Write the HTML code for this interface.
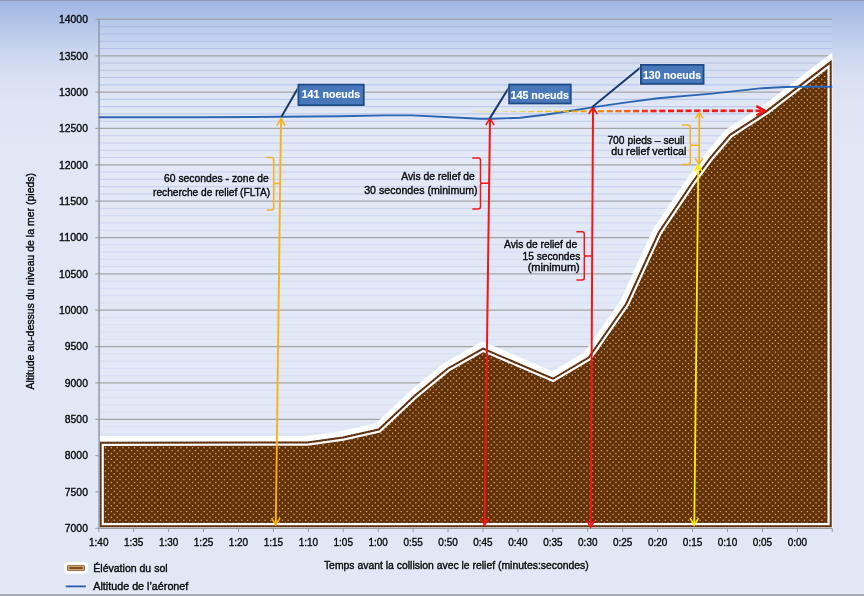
<!DOCTYPE html>
<html lang="fr"><head><meta charset="utf-8"><title>Profil du relief et altitude de l'aéronef</title>
<style>html,body{margin:0;padding:0;background:#e1e7f5;}body{width:864px;height:596px;overflow:hidden;}svg{display:block;font-family:"Liberation Sans",sans-serif;}.t{font-size:11.4px;fill:#0b0b0b;stroke:#0b0b0b;stroke-width:0.4px;}.tk{font-size:10.8px;fill:#0b0b0b;stroke:#0b0b0b;stroke-width:0.38px;}.cb{font-size:11.6px;font-weight:bold;fill:#fff;stroke:#fff;stroke-width:0.15px;}</style></head><body>
<svg width="864" height="596" viewBox="0 0 864 596">
<defs>
<linearGradient id="bg" x1="0" y1="0" x2="0" y2="1"><stop offset="0" stop-color="#9eb6e2"/><stop offset="0.04" stop-color="#b3c5e9"/><stop offset="0.085" stop-color="#cad5ef"/><stop offset="0.125" stop-color="#d7dff2"/><stop offset="0.17" stop-color="#dde4f4"/><stop offset="0.25" stop-color="#e1e7f5"/><stop offset="1" stop-color="#e1e7f5"/></linearGradient>
<linearGradient id="pl" x1="0" y1="0" x2="0" y2="1"><stop offset="0" stop-color="#fff" stop-opacity="0.09"/><stop offset="0.5" stop-color="#fff" stop-opacity="0.05"/><stop offset="1" stop-color="#fff" stop-opacity="0.03"/></linearGradient>
<pattern id="dots" width="29" height="29" patternUnits="userSpaceOnUse"><rect width="29" height="29" fill="#643208"/><g fill="#d2a776"><rect x="0.5" y="0.5" width="1.3" height="1.3"/><rect x="3.4" y="3.4" width="1.3" height="1.3"/><rect x="0.5" y="6.3" width="1.3" height="1.3"/><rect x="3.4" y="9.2" width="1.3" height="1.3"/><rect x="0.5" y="12.1" width="1.3" height="1.3"/><rect x="3.4" y="15.0" width="1.3" height="1.3"/><rect x="0.5" y="17.9" width="1.3" height="1.3"/><rect x="3.4" y="20.8" width="1.3" height="1.3"/><rect x="0.5" y="23.7" width="1.3" height="1.3"/><rect x="3.4" y="26.6" width="1.3" height="1.3"/><rect x="6.3" y="0.5" width="1.3" height="1.3"/><rect x="9.2" y="3.4" width="1.3" height="1.3"/><rect x="6.3" y="6.3" width="1.3" height="1.3"/><rect x="9.2" y="9.2" width="1.3" height="1.3"/><rect x="6.3" y="12.1" width="1.3" height="1.3"/><rect x="9.2" y="15.0" width="1.3" height="1.3"/><rect x="6.3" y="17.9" width="1.3" height="1.3"/><rect x="9.2" y="20.8" width="1.3" height="1.3"/><rect x="6.3" y="23.7" width="1.3" height="1.3"/><rect x="9.2" y="26.6" width="1.3" height="1.3"/><rect x="12.1" y="0.5" width="1.3" height="1.3"/><rect x="15.0" y="3.4" width="1.3" height="1.3"/><rect x="12.1" y="6.3" width="1.3" height="1.3"/><rect x="15.0" y="9.2" width="1.3" height="1.3"/><rect x="12.1" y="12.1" width="1.3" height="1.3"/><rect x="15.0" y="15.0" width="1.3" height="1.3"/><rect x="12.1" y="17.9" width="1.3" height="1.3"/><rect x="15.0" y="20.8" width="1.3" height="1.3"/><rect x="12.1" y="23.7" width="1.3" height="1.3"/><rect x="15.0" y="26.6" width="1.3" height="1.3"/><rect x="17.9" y="0.5" width="1.3" height="1.3"/><rect x="20.8" y="3.4" width="1.3" height="1.3"/><rect x="17.9" y="6.3" width="1.3" height="1.3"/><rect x="20.8" y="9.2" width="1.3" height="1.3"/><rect x="17.9" y="12.1" width="1.3" height="1.3"/><rect x="20.8" y="15.0" width="1.3" height="1.3"/><rect x="17.9" y="17.9" width="1.3" height="1.3"/><rect x="20.8" y="20.8" width="1.3" height="1.3"/><rect x="17.9" y="23.7" width="1.3" height="1.3"/><rect x="20.8" y="26.6" width="1.3" height="1.3"/><rect x="23.7" y="0.5" width="1.3" height="1.3"/><rect x="26.6" y="3.4" width="1.3" height="1.3"/><rect x="23.7" y="6.3" width="1.3" height="1.3"/><rect x="26.6" y="9.2" width="1.3" height="1.3"/><rect x="23.7" y="12.1" width="1.3" height="1.3"/><rect x="26.6" y="15.0" width="1.3" height="1.3"/><rect x="23.7" y="17.9" width="1.3" height="1.3"/><rect x="26.6" y="20.8" width="1.3" height="1.3"/><rect x="23.7" y="23.7" width="1.3" height="1.3"/><rect x="26.6" y="26.6" width="1.3" height="1.3"/></g></pattern>
<linearGradient id="dash" gradientUnits="userSpaceOnUse" x1="470" y1="0" x2="665" y2="0"><stop offset="0" stop-color="#f5d020" stop-opacity="0"/><stop offset="0.12" stop-color="#f5c81e" stop-opacity="0.55"/><stop offset="0.35" stop-color="#f3b000"/><stop offset="0.6" stop-color="#f37a10"/><stop offset="0.85" stop-color="#ee2a18"/><stop offset="1" stop-color="#ec1c1c"/></linearGradient>
<clipPath id="plot"><rect x="98.75" y="0" width="733.55" height="528.90"/></clipPath>
</defs>
<rect width="864" height="596" fill="url(#bg)"/>
<rect x="0" y="0" width="864" height="1.2" fill="#8c9ab6"/>
<rect x="0" y="1.2" width="864" height="1" fill="#a5b7ea" fill-opacity="0.8"/>
<rect x="0" y="593" width="864" height="1" fill="#eef1f8"/>
<rect x="0" y="594" width="864" height="2" fill="#a2a7b3"/>
<rect x="98.75" y="19.4" width="733.55" height="508.90" fill="url(#pl)"/>
<g stroke-width="1.1" fill="none">
<path d="M98.75 26.67H832.3" stroke="#a8bce7"/>
<path d="M98.75 33.94H832.3" stroke="#aabde7"/>
<path d="M98.75 41.21H832.3" stroke="#acbfe8"/>
<path d="M98.75 48.48H832.3" stroke="#aec0e9"/>
<path d="M98.75 63.02H832.3" stroke="#b2c4ea"/>
<path d="M98.75 70.29H832.3" stroke="#b4c5eb"/>
<path d="M98.75 77.56H832.3" stroke="#b5c6eb"/>
<path d="M98.75 84.83H832.3" stroke="#b7c7ec"/>
<path d="M98.75 99.37H832.3" stroke="#bbcaed"/>
<path d="M98.75 106.64H832.3" stroke="#bdcbed"/>
<path d="M98.75 113.91H832.3" stroke="#beccee"/>
<path d="M98.75 121.18H832.3" stroke="#c0cdee"/>
<path d="M98.75 135.72H832.3" stroke="#c2cfee"/>
<path d="M98.75 142.99H832.3" stroke="#c3cfef"/>
<path d="M98.75 150.26H832.3" stroke="#c4d0ef"/>
<path d="M98.75 157.53H832.3" stroke="#c5d1ef"/>
<path d="M98.75 172.07H832.3" stroke="#c7d2ef"/>
<path d="M98.75 179.34H832.3" stroke="#c8d3ef"/>
<path d="M98.75 186.61H832.3" stroke="#c9d4f0"/>
<path d="M98.75 193.88H832.3" stroke="#cad4f0"/>
<path d="M98.75 208.42H832.3" stroke="#ccd6f0"/>
<path d="M98.75 215.69H832.3" stroke="#cdd7f1"/>
<path d="M98.75 222.96H832.3" stroke="#ced7f1"/>
<path d="M98.75 230.23H832.3" stroke="#cfd8f1"/>
<path d="M98.75 244.77H832.3" stroke="#d1d9f2"/>
<path d="M98.75 252.04H832.3" stroke="#d2daf2"/>
<path d="M98.75 259.31H832.3" stroke="#d3dbf2"/>
<path d="M98.75 266.58H832.3" stroke="#d4dcf3"/>
<path d="M98.75 281.12H832.3" stroke="#d6ddf3"/>
<path d="M98.75 288.39H832.3" stroke="#d6def4"/>
<path d="M98.75 295.66H832.3" stroke="#d7dff4"/>
<path d="M98.75 302.93H832.3" stroke="#d8dff4"/>
<path d="M98.75 317.47H832.3" stroke="#d8dff4"/>
<path d="M98.75 324.74H832.3" stroke="#d8dff4"/>
<path d="M98.75 332.01H832.3" stroke="#d8dff4"/>
<path d="M98.75 339.28H832.3" stroke="#d9dff4"/>
<path d="M98.75 353.82H832.3" stroke="#d9dff4"/>
<path d="M98.75 361.09H832.3" stroke="#d9e0f4"/>
<path d="M98.75 368.36H832.3" stroke="#d9e0f4"/>
<path d="M98.75 375.63H832.3" stroke="#d9e0f4"/>
<path d="M98.75 390.17H832.3" stroke="#d9e0f4"/>
<path d="M98.75 397.44H832.3" stroke="#d9e0f4"/>
<path d="M98.75 404.71H832.3" stroke="#d9e0f4"/>
<path d="M98.75 411.98H832.3" stroke="#d9e0f4"/>
<path d="M98.75 426.52H832.3" stroke="#dae0f5"/>
<path d="M98.75 433.79H832.3" stroke="#dae0f5"/>
<path d="M98.75 441.06H832.3" stroke="#dae0f5"/>
<path d="M98.75 448.33H832.3" stroke="#dae0f5"/>
<path d="M98.75 462.87H832.3" stroke="#dae0f5"/>
<path d="M98.75 470.14H832.3" stroke="#dae0f5"/>
<path d="M98.75 477.41H832.3" stroke="#dae1f5"/>
<path d="M98.75 484.68H832.3" stroke="#dae1f5"/>
<path d="M98.75 499.22H832.3" stroke="#dbe1f5"/>
<path d="M98.75 506.49H832.3" stroke="#dbe1f5"/>
<path d="M98.75 513.76H832.3" stroke="#dbe1f5"/>
<path d="M98.75 521.03H832.3" stroke="#dbe1f5"/>
</g>
<g stroke="#a4a4a6" stroke-width="1.25" fill="none">
<path d="M95.35 19.40H832.3"/>
<path d="M95.35 55.75H832.3"/>
<path d="M95.35 92.10H832.3"/>
<path d="M95.35 128.45H832.3"/>
<path d="M95.35 164.80H832.3"/>
<path d="M95.35 201.15H832.3"/>
<path d="M95.35 237.50H832.3"/>
<path d="M95.35 273.85H832.3"/>
<path d="M95.35 310.20H832.3"/>
<path d="M95.35 346.55H832.3"/>
<path d="M95.35 382.90H832.3"/>
<path d="M95.35 419.25H832.3"/>
<path d="M95.35 455.60H832.3"/>
<path d="M95.35 491.95H832.3"/>
</g>
<g clip-path="url(#plot)">
<polygon points="100.6,442.7 307.5,442.5 343,437.5 378.75,429.5 415,395.5 447.5,368.75 483,348.6 553,378.75 588.75,357.5 626.25,303.75 658.75,232.5 693,181.5 710.3,157.8 730,134.8 766,111.6 830.7,62.1 830.7,526.3 100.6,526.3" fill="#fff" stroke="#fff" stroke-width="13.2" stroke-linejoin="miter"/>
<polygon points="100.6,442.7 307.5,442.5 343,437.5 378.75,429.5 415,395.5 447.5,368.75 483,348.6 553,378.75 588.75,357.5 626.25,303.75 658.75,232.5 693,181.5 710.3,157.8 730,134.8 766,111.6 830.7,62.1 830.7,526.3 100.6,526.3" fill="url(#dots)" stroke="none"/>
<polygon points="100.6,442.7 307.5,442.5 343,437.5 378.75,429.5 415,395.5 447.5,368.75 483,348.6 553,378.75 588.75,357.5 626.25,303.75 658.75,232.5 693,181.5 710.3,157.8 730,134.8 766,111.6 830.7,62.1 830.7,526.3 100.6,526.3" fill="none" stroke="#fff" stroke-width="6.4" stroke-linejoin="miter"/>
<polygon points="100.6,442.7 307.5,442.5 343,437.5 378.75,429.5 415,395.5 447.5,368.75 483,348.6 553,378.75 588.75,357.5 626.25,303.75 658.75,232.5 693,181.5 710.3,157.8 730,134.8 766,111.6 830.7,62.1 830.7,526.3 100.6,526.3" fill="none" stroke="#542404" stroke-width="2" stroke-linejoin="miter"/>
<polygon points="100.6,442.7 307.5,442.5 343,437.5 378.75,429.5 415,395.5 447.5,368.75 483,348.6 553,378.75 588.75,357.5 626.25,303.75 658.75,232.5 693,181.5 710.3,157.8 730,134.8 766,111.6 830.7,62.1 830.7,526.3 100.6,526.3" fill="none" stroke="#c9a074" stroke-width="1.7" stroke-dasharray="1.3 1.6" stroke-opacity="0.28"/>
</g>
<path d="M99.05 18.80V528.30" fill="none" stroke="#9298a6" stroke-width="1.5"/>
<path d="M98.75 528.30H832.3" fill="none" stroke="#9a9ca2" stroke-width="1.2"/>
<g stroke="#989ca8" stroke-width="1" fill="none">
<path d="M95.35 528.30H98.75"/>
<path d="M98.75 528.30v3.8"/>
<path d="M133.68 528.30v3.8"/>
<path d="M168.61 528.30v3.8"/>
<path d="M203.54 528.30v3.8"/>
<path d="M238.47 528.30v3.8"/>
<path d="M273.40 528.30v3.8"/>
<path d="M308.33 528.30v3.8"/>
<path d="M343.26 528.30v3.8"/>
<path d="M378.19 528.30v3.8"/>
<path d="M413.12 528.30v3.8"/>
<path d="M448.05 528.30v3.8"/>
<path d="M482.98 528.30v3.8"/>
<path d="M517.91 528.30v3.8"/>
<path d="M552.84 528.30v3.8"/>
<path d="M587.77 528.30v3.8"/>
<path d="M622.70 528.30v3.8"/>
<path d="M657.63 528.30v3.8"/>
<path d="M692.56 528.30v3.8"/>
<path d="M727.49 528.30v3.8"/>
<path d="M762.42 528.30v3.8"/>
<path d="M797.35 528.30v3.8"/>
<path d="M832.28 528.30v3.8"/>
</g>
<polyline points="98.75,117.2 200,117.3 281,116.8 340,116.2 385,115.4 412,115.4 450,117.2 480,118.7 492,118.7 520,117.8 545,114.8 565,111.8 592,107.4 625,102.6 658,98.3 712,93.6 760,88.4 785,87.0 800,86.7 832.3,86.7" fill="none" stroke="#2a66b3" stroke-width="1.9" stroke-linejoin="round"/>
<path d="M472 111.7H492" stroke="#f6d632" stroke-width="0.9" stroke-opacity="0.45" fill="none"/>
<g fill="none">
<path d="M493.0 111.69H499.1" stroke="#f5cd26" stroke-width="1.00" stroke-opacity="0.39"/>
<path d="M501.8 111.65H507.9" stroke="#f5ca21" stroke-width="1.09" stroke-opacity="0.47"/>
<path d="M510.5 111.61H516.6" stroke="#f5c61c" stroke-width="1.19" stroke-opacity="0.54"/>
<path d="M519.2 111.57H525.4" stroke="#f4c317" stroke-width="1.29" stroke-opacity="0.62"/>
<path d="M528.0 111.53H534.1" stroke="#f4bf12" stroke-width="1.39" stroke-opacity="0.69"/>
<path d="M536.8 111.49H542.9" stroke="#f4bc0d" stroke-width="1.48" stroke-opacity="0.77"/>
<path d="M545.5 111.45H551.6" stroke="#f3b808" stroke-width="1.58" stroke-opacity="0.84"/>
<path d="M554.2 111.41H560.4" stroke="#f3b403" stroke-width="1.68" stroke-opacity="0.92"/>
<path d="M563.0 111.37H569.1" stroke="#f3af01" stroke-width="1.78" stroke-opacity="0.99"/>
<path d="M571.8 111.33H577.9" stroke="#f3a705" stroke-width="1.88" stroke-opacity="1.00"/>
<path d="M580.5 111.29H586.6" stroke="#f39e09" stroke-width="1.98" stroke-opacity="1.00"/>
<path d="M589.2 111.25H595.4" stroke="#f3960d" stroke-width="2.08" stroke-opacity="1.00"/>
<path d="M598.0 111.21H604.1" stroke="#f38b11" stroke-width="2.18" stroke-opacity="1.00"/>
<path d="M606.8 111.17H612.9" stroke="#f37c14" stroke-width="2.28" stroke-opacity="1.00"/>
<path d="M615.5 111.14H621.6" stroke="#f26c17" stroke-width="2.38" stroke-opacity="1.00"/>
<path d="M624.2 111.10H630.4" stroke="#f25d1a" stroke-width="2.48" stroke-opacity="1.00"/>
<path d="M633.0 111.06H639.1" stroke="#f14919" stroke-width="2.58" stroke-opacity="1.00"/>
<path d="M641.8 111.02H647.9" stroke="#f13419" stroke-width="2.67" stroke-opacity="1.00"/>
<path d="M650.5 110.98H656.6" stroke="#f02018" stroke-width="2.70" stroke-opacity="1.00"/>
<path d="M659.2 110.94H665.4" stroke="#f01c18" stroke-width="2.70" stroke-opacity="1.00"/>
<path d="M668.0 110.90H674.1" stroke="#f01c18" stroke-width="2.70" stroke-opacity="1.00"/>
<path d="M676.8 110.86H682.9" stroke="#f01b18" stroke-width="2.70" stroke-opacity="1.00"/>
<path d="M685.5 110.82H691.6" stroke="#f01b18" stroke-width="2.70" stroke-opacity="1.00"/>
<path d="M694.2 110.80H700.4" stroke="#f01b18" stroke-width="2.70" stroke-opacity="1.00"/>
<path d="M703.0 110.80H709.1" stroke="#f01b18" stroke-width="2.70" stroke-opacity="1.00"/>
<path d="M711.8 110.80H717.9" stroke="#f01a18" stroke-width="2.70" stroke-opacity="1.00"/>
<path d="M720.5 110.80H726.6" stroke="#f01a18" stroke-width="2.70" stroke-opacity="1.00"/>
<path d="M729.2 110.80H735.4" stroke="#f01a18" stroke-width="2.70" stroke-opacity="1.00"/>
<path d="M738.0 110.80H744.1" stroke="#f01a18" stroke-width="2.70" stroke-opacity="1.00"/>
<path d="M746.8 110.80H752.9" stroke="#f01918" stroke-width="2.70" stroke-opacity="1.00"/>
<path d="M755.5 110.80H761.6" stroke="#f01918" stroke-width="2.70" stroke-opacity="1.00"/>
</g>
<path d="M756.3 106.2L765.1 110.8L756.3 115.4" fill="none" stroke="#f01818" stroke-width="2.5" stroke-linejoin="miter"/>
<path d="M281 119L275.8 524.5" stroke="#f5b31b" stroke-width="1.9" fill="none"/>
<path d="M276.8 125.6L281.0 118.6L285.2 125.6" fill="none" stroke="#f5b31b" stroke-width="1.6"/>
<path d="M271.6 518.0L275.8 525.0L280.0 518.0" fill="none" stroke="#f5b31b" stroke-width="1.6"/>
<path d="M490 118.6L484.6 524.5" stroke="#f21616" stroke-width="2" fill="none"/>
<path d="M485.8 125.2L490.0 118.2L494.2 125.2" fill="none" stroke="#f21616" stroke-width="1.6"/>
<path d="M480.4 518.2L484.6 525.2L488.8 518.2" fill="none" stroke="#f21616" stroke-width="1.6"/>
<path d="M593 107.4L590.7 526.5" stroke="#f21616" stroke-width="2" fill="none"/>
<path d="M588.8 114.0L593.0 107.0L597.2 114.0" fill="none" stroke="#f21616" stroke-width="1.6"/>
<path d="M586.5 520.2L590.7 527.2L594.9 520.2" fill="none" stroke="#f21616" stroke-width="1.6"/>
<path d="M698.3 165.4L694.3 524.5" stroke="#fff000" stroke-width="1.8" fill="none"/>
<path d="M694.6 171.3L698.3 164.9L702.0 171.3" fill="none" stroke="#fff000" stroke-width="1.7"/>
<path d="M690.1 518.2L694.3 525.2L698.5 518.2" fill="none" stroke="#fff000" stroke-width="1.6"/>
<path d="M699.3 112.8L699.1 164" stroke="#f5b31b" stroke-width="1.7" fill="none"/>
<path d="M695.5 118.4L699.3 112.4L703.1 118.4" fill="none" stroke="#f5b31b" stroke-width="1.5"/>
<path d="M695.3 158.3L699.1 164.3L702.9 158.3" fill="none" stroke="#f5b31b" stroke-width="1.5"/>
<path d="M266.7 157.6H271.5Q273.7 157.6 273.7 159.79999999999998V182.20000000000002Q273.7 183.4 275.3 183.4H280.2M275.3 183.4Q273.7 183.4 273.7 184.6V207.8Q273.7 210 271.5 210H266.7" fill="none" stroke="#f5b31b" stroke-width="1.5"/>
<path d="M472.3 158H478.3Q480.5 158 480.5 160.2V182.0Q480.5 183.2 482.1 183.2H489M482.1 183.2Q480.5 183.2 480.5 184.39999999999998V206.8Q480.5 209 478.3 209H472.3" fill="none" stroke="#f21616" stroke-width="1.5"/>
<path d="M576.4 231.8H582.0999999999999Q584.3 231.8 584.3 234.0V254.90000000000003Q584.3 256.1 585.9 256.1H592M585.9 256.1Q584.3 256.1 584.3 257.3V277.7Q584.3 279.9 582.0999999999999 279.9H576.4" fill="none" stroke="#f21616" stroke-width="1.5"/>
<path d="M682 125H688.0999999999999Q690.3 125 690.3 127.2V144.10000000000002Q690.3 145.3 691.9 145.3H699M691.9 145.3Q690.3 145.3 690.3 146.5V162.20000000000002Q690.3 164.4 688.0999999999999 164.4H682" fill="none" stroke="#f5b31b" stroke-width="1.5"/>
<path d="M281.3 117L299.2 86.1" stroke="#173a6e" stroke-width="2" fill="none"/><rect x="297.5" y="83.69999999999999" width="67.2" height="22.400000000000002" fill="none" stroke="#eef2fa" stroke-opacity="0.7" stroke-width="1"/><rect x="298.4" y="84.6" width="65.4" height="20.6" fill="#4878b9" stroke="#1f4a88" stroke-width="1.8"/><text class="cb" x="301.7" y="97.9" textLength="58.6" lengthAdjust="spacingAndGlyphs">141 noeuds</text>
<path d="M489.8 118.4L509.90000000000003 86.0" stroke="#173a6e" stroke-width="2" fill="none"/><rect x="508.20000000000005" y="83.6" width="63.5" height="20.8" fill="none" stroke="#eef2fa" stroke-opacity="0.7" stroke-width="1"/><rect x="509.1" y="84.5" width="61.7" height="19" fill="#4878b9" stroke="#1f4a88" stroke-width="1.8"/><text class="cb" x="510.8" y="98.5" textLength="58.1" lengthAdjust="spacingAndGlyphs">145 noeuds</text>
<path d="M592 107.3L641.6999999999999 66.4" stroke="#173a6e" stroke-width="2" fill="none"/><rect x="640.0" y="64.0" width="64.5" height="20.8" fill="none" stroke="#eef2fa" stroke-opacity="0.7" stroke-width="1"/><rect x="640.9" y="64.9" width="62.7" height="19" fill="#4878b9" stroke="#1f4a88" stroke-width="1.8"/><text class="cb" x="643" y="78.5" textLength="58" lengthAdjust="spacingAndGlyphs">130 noeuds</text>
<text class="t" x="164" y="181.8" text-anchor="start" textLength="104.8" lengthAdjust="spacingAndGlyphs">60 secondes - zone de</text>
<text class="t" x="153" y="195.7" text-anchor="start" textLength="117.2" lengthAdjust="spacingAndGlyphs">recherche de relief (FLTA)</text>
<text class="t" x="401.2" y="180.2" text-anchor="start" textLength="73.5" lengthAdjust="spacingAndGlyphs">Avis de relief de</text>
<text class="t" x="364.2" y="194.1" text-anchor="start" textLength="113.4" lengthAdjust="spacingAndGlyphs">30 secondes (minimum)</text>
<text class="t" x="504" y="247.8" text-anchor="start" textLength="73.2" lengthAdjust="spacingAndGlyphs">Avis de relief de</text>
<text class="t" x="522.5" y="259.6" text-anchor="start" textLength="57.8" lengthAdjust="spacingAndGlyphs">15 secondes</text>
<text class="t" x="527.7" y="270.7" text-anchor="start" textLength="52.1" lengthAdjust="spacingAndGlyphs">(minimum)</text>
<text class="t" x="607.4" y="143.6" text-anchor="start" textLength="77.2" lengthAdjust="spacingAndGlyphs">700 pieds – seuil</text>
<text class="t" x="611.2" y="154.9" text-anchor="start" textLength="75.2" lengthAdjust="spacingAndGlyphs">du relief vertical</text>
<text class="tk" x="59.10000000000001" y="23.20" text-anchor="start" textLength="28.80" lengthAdjust="spacingAndGlyphs">14000</text>
<text class="tk" x="59.10000000000001" y="59.55" text-anchor="start" textLength="28.80" lengthAdjust="spacingAndGlyphs">13500</text>
<text class="tk" x="59.10000000000001" y="95.90" text-anchor="start" textLength="28.80" lengthAdjust="spacingAndGlyphs">13000</text>
<text class="tk" x="59.10000000000001" y="132.25" text-anchor="start" textLength="28.80" lengthAdjust="spacingAndGlyphs">12500</text>
<text class="tk" x="59.10000000000001" y="168.60" text-anchor="start" textLength="28.80" lengthAdjust="spacingAndGlyphs">12000</text>
<text class="tk" x="59.10000000000001" y="204.95" text-anchor="start" textLength="28.80" lengthAdjust="spacingAndGlyphs">11500</text>
<text class="tk" x="59.10000000000001" y="241.30" text-anchor="start" textLength="28.80" lengthAdjust="spacingAndGlyphs">11000</text>
<text class="tk" x="59.10000000000001" y="277.65" text-anchor="start" textLength="28.80" lengthAdjust="spacingAndGlyphs">10500</text>
<text class="tk" x="59.10000000000001" y="314.00" text-anchor="start" textLength="28.80" lengthAdjust="spacingAndGlyphs">10000</text>
<text class="tk" x="64.86000000000001" y="350.35" text-anchor="start" textLength="23.04" lengthAdjust="spacingAndGlyphs">9500</text>
<text class="tk" x="64.86000000000001" y="386.70" text-anchor="start" textLength="23.04" lengthAdjust="spacingAndGlyphs">9000</text>
<text class="tk" x="64.86000000000001" y="423.05" text-anchor="start" textLength="23.04" lengthAdjust="spacingAndGlyphs">8500</text>
<text class="tk" x="64.86000000000001" y="459.40" text-anchor="start" textLength="23.04" lengthAdjust="spacingAndGlyphs">8000</text>
<text class="tk" x="64.86000000000001" y="495.75" text-anchor="start" textLength="23.04" lengthAdjust="spacingAndGlyphs">7500</text>
<text class="tk" x="64.86000000000001" y="532.10" text-anchor="start" textLength="23.04" lengthAdjust="spacingAndGlyphs">7000</text>
<text class="tk" x="89.05" y="546.3" text-anchor="start" textLength="19.4" lengthAdjust="spacingAndGlyphs">1:40</text>
<text class="tk" x="123.98" y="546.3" text-anchor="start" textLength="19.4" lengthAdjust="spacingAndGlyphs">1:35</text>
<text class="tk" x="158.91" y="546.3" text-anchor="start" textLength="19.4" lengthAdjust="spacingAndGlyphs">1:30</text>
<text class="tk" x="193.84" y="546.3" text-anchor="start" textLength="19.4" lengthAdjust="spacingAndGlyphs">1:25</text>
<text class="tk" x="228.77" y="546.3" text-anchor="start" textLength="19.4" lengthAdjust="spacingAndGlyphs">1:20</text>
<text class="tk" x="263.70" y="546.3" text-anchor="start" textLength="19.4" lengthAdjust="spacingAndGlyphs">1:15</text>
<text class="tk" x="298.63" y="546.3" text-anchor="start" textLength="19.4" lengthAdjust="spacingAndGlyphs">1:10</text>
<text class="tk" x="333.56" y="546.3" text-anchor="start" textLength="19.4" lengthAdjust="spacingAndGlyphs">1:05</text>
<text class="tk" x="368.49" y="546.3" text-anchor="start" textLength="19.4" lengthAdjust="spacingAndGlyphs">1:00</text>
<text class="tk" x="403.42" y="546.3" text-anchor="start" textLength="19.4" lengthAdjust="spacingAndGlyphs">0:55</text>
<text class="tk" x="438.35" y="546.3" text-anchor="start" textLength="19.4" lengthAdjust="spacingAndGlyphs">0:50</text>
<text class="tk" x="473.28" y="546.3" text-anchor="start" textLength="19.4" lengthAdjust="spacingAndGlyphs">0:45</text>
<text class="tk" x="508.21" y="546.3" text-anchor="start" textLength="19.4" lengthAdjust="spacingAndGlyphs">0:40</text>
<text class="tk" x="543.14" y="546.3" text-anchor="start" textLength="19.4" lengthAdjust="spacingAndGlyphs">0:35</text>
<text class="tk" x="578.07" y="546.3" text-anchor="start" textLength="19.4" lengthAdjust="spacingAndGlyphs">0:30</text>
<text class="tk" x="613.00" y="546.3" text-anchor="start" textLength="19.4" lengthAdjust="spacingAndGlyphs">0:25</text>
<text class="tk" x="647.93" y="546.3" text-anchor="start" textLength="19.4" lengthAdjust="spacingAndGlyphs">0:20</text>
<text class="tk" x="682.86" y="546.3" text-anchor="start" textLength="19.4" lengthAdjust="spacingAndGlyphs">0:15</text>
<text class="tk" x="717.79" y="546.3" text-anchor="start" textLength="19.4" lengthAdjust="spacingAndGlyphs">0:10</text>
<text class="tk" x="752.72" y="546.3" text-anchor="start" textLength="19.4" lengthAdjust="spacingAndGlyphs">0:05</text>
<text class="tk" x="787.65" y="546.3" text-anchor="start" textLength="19.4" lengthAdjust="spacingAndGlyphs">0:00</text>
<text class="t" x="323.9" y="568.9" text-anchor="start" textLength="264.9" lengthAdjust="spacingAndGlyphs">Temps avant la collision avec le relief (minutes:secondes)</text>
<text class="t" transform="translate(34.2 389.6) rotate(-90)" textLength="216.7" lengthAdjust="spacingAndGlyphs">Altitude au-dessus du niveau de la mer (pieds)</text>
<rect x="64.3" y="561.9" width="23.8" height="11.8" rx="2.5" fill="#fbfcfe"/>
<rect x="67" y="564.9" width="18" height="6.1" rx="1.6" fill="#87551f"/>
<rect x="67.8" y="565.7" width="16.4" height="4.5" rx="1.3" fill="#f3cfa6"/>
<rect x="68.5" y="566.4" width="15" height="3.1" rx="0.9" fill="#a27444"/>
<path d="M70.3 568H82.3" stroke="#5a2c08" stroke-width="1" stroke-linecap="round"/>
<text class="t" x="93.3" y="571.5" text-anchor="start" textLength="74.3" lengthAdjust="spacingAndGlyphs">Élévation du sol</text>
<path d="M65 586.4H86.6" stroke="#f3f6fc" stroke-width="4" stroke-opacity="0.6"/>
<path d="M65.7 586.4H85.9" stroke="#2a5fb8" stroke-width="1.9"/>
<text class="t" x="93.3" y="589.5" text-anchor="start" textLength="95" lengthAdjust="spacingAndGlyphs">Altitude de l’aéronef</text>
</svg></body></html>
